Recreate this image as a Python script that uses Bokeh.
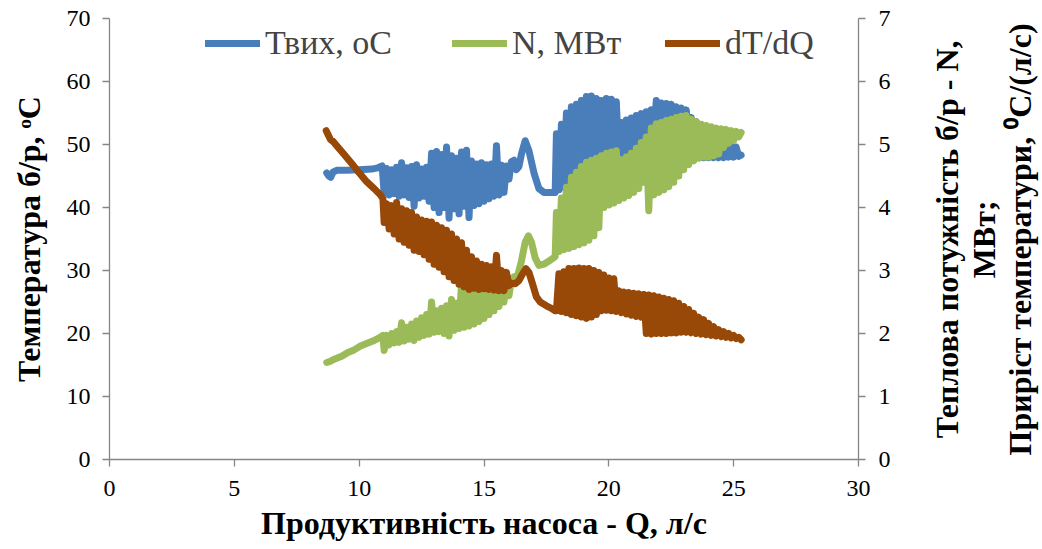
import math
from bokeh.plotting import figure
from bokeh.layouts import row
from bokeh.models import (Range1d, LinearAxis, SingleIntervalTicker, Legend, LegendItem)
from bokeh.core.properties import value
from bokeh.embed import file_html
from bokeh.resources import INLINE

# ---------------- data ----------------
# Outlet temperature, oC (left axis)
q_t = [8.70, 8.78, 8.86, 8.95, 9.10, 9.50, 10.00, 10.50, 10.75, 10.92,
       11.0, 11.1, 11.2, 11.3, 11.4, 11.5, 11.6, 11.7, 11.8, 11.9,
       12.0, 12.1, 12.2, 12.3, 12.4, 12.5, 12.6, 12.7, 12.8, 12.9,
       13.0, 13.1, 13.2, 13.3, 13.4, 13.5, 13.6, 13.7, 13.8, 13.9,
       14.0, 14.1, 14.2, 14.3, 14.4, 14.5, 14.6, 14.7, 14.8, 14.9,
       15.0, 15.1, 15.2, 15.3, 15.4, 15.5, 15.6, 15.7, 15.8, 15.9, 16.0,
       16.1, 16.2, 16.3, 16.4, 16.5, 16.65, 16.8, 17.0, 17.2, 17.4, 17.6, 17.85,
       17.9, 18.0, 18.1, 18.2, 18.3, 18.4, 18.5, 18.6, 18.7, 18.8, 18.9,
       19.0, 19.1, 19.2, 19.3, 19.4, 19.5, 19.6, 19.7, 19.8, 19.9,
       20.0, 20.1, 20.2, 20.3, 20.4, 20.5, 20.6, 20.7, 20.8, 20.9,
       21.0, 21.1, 21.2, 21.3, 21.4, 21.5, 21.6, 21.7, 21.8, 21.9,
       22.0, 22.1, 22.2, 22.3, 22.4, 22.5, 22.6, 22.7, 22.8, 22.9,
       23.0, 23.1, 23.2, 23.3, 23.4, 23.5, 23.6, 23.7, 23.8, 23.9,
       24.0, 24.1, 24.2, 24.3, 24.4, 24.5, 24.6, 24.7, 24.8, 24.9,
       25.0, 25.1, 25.2, 25.3]
t_out = [45.5, 45.0, 44.8, 45.6, 45.9, 45.9, 46.0, 46.1, 46.3, 46.6,
         42.3, 46.2, 42.0, 46.0, 42.2, 46.4, 41.8, 47.1, 42.0, 46.3,
         41.6, 46.5, 40.2, 46.8, 41.5, 46.1, 41.8, 46.4, 41.0, 48.6,
         40.0, 48.9, 39.2, 48.4, 40.0, 49.6, 38.3, 48.2, 39.8, 47.8,
         39.0, 48.8, 40.2, 49.1, 38.4, 47.4, 40.3, 46.9, 40.6, 47.1,
         41.0, 46.8, 41.4, 46.9, 41.8, 49.8, 42.0, 46.7, 42.4, 46.6, 44.5,
         47.3, 47.5, 46.0, 46.5, 48.5, 50.6, 49.0, 45.5, 43.0, 42.4, 42.4, 42.4,
         51.7, 42.8, 53.2, 43.2, 55.0, 43.8, 56.0, 44.3, 56.4, 44.8, 57.0,
         45.3, 57.6, 45.8, 57.7, 46.3, 57.3, 46.8, 57.0, 47.3, 57.3,
         47.8, 57.2, 48.3, 56.8, 47.5, 53.5, 47.0, 53.9, 47.6, 54.2,
         48.3, 54.6, 49.0, 54.9, 49.7, 55.2, 50.3, 55.5, 51.0, 57.0,
         51.6, 56.6, 52.2, 56.5, 52.7, 56.4, 53.0, 56.0, 53.0, 55.8,
         52.5, 55.5, 51.5, 54.3, 49.5, 53.6, 48.3, 53.0, 47.9, 52.4,
         47.9, 51.8, 47.9, 51.2, 47.9, 50.8, 47.9, 50.4, 48.0, 50.0,
         48.0, 49.6, 48.1, 48.3]

# Heat power N, MW (right axis)
q_n = [8.70, 8.85, 9.05, 9.30, 9.55, 9.80, 10.05, 10.30, 10.55, 10.80, 10.95,
       11.0, 11.1, 11.2, 11.3, 11.4, 11.5, 11.6, 11.7, 11.8, 11.9,
       12.0, 12.1, 12.2, 12.3, 12.4, 12.5, 12.6, 12.7, 12.8, 12.9,
       13.0, 13.1, 13.2, 13.3, 13.4, 13.5, 13.6, 13.7, 13.8, 13.9,
       14.0, 14.1, 14.2, 14.3, 14.4, 14.5, 14.6, 14.7, 14.8, 14.9,
       15.0, 15.1, 15.2, 15.3, 15.4, 15.5, 15.6, 15.7, 15.8, 15.9, 16.0,
       16.1, 16.2, 16.35, 16.5, 16.65, 16.78, 16.9, 17.05, 17.2, 17.4, 17.6, 17.85,
       17.9, 18.0, 18.1, 18.2, 18.3, 18.4, 18.5, 18.6, 18.7, 18.8, 18.9,
       19.0, 19.1, 19.2, 19.3, 19.4, 19.5, 19.6, 19.7, 19.8, 19.9,
       20.0, 20.1, 20.2, 20.3, 20.4, 20.5, 20.6, 20.7, 20.8, 20.9,
       21.0, 21.1, 21.2, 21.3, 21.4, 21.5, 21.6, 21.7, 21.8, 21.9,
       22.0, 22.1, 22.2, 22.3, 22.4, 22.5, 22.6, 22.7, 22.8, 22.9,
       23.0, 23.1, 23.2, 23.3, 23.4, 23.5, 23.6, 23.7, 23.8, 23.9,
       24.0, 24.1, 24.2, 24.3, 24.4, 24.5, 24.6, 24.7, 24.8, 24.9,
       25.0, 25.1, 25.2, 25.3]
n_mw = [1.54, 1.56, 1.60, 1.64, 1.70, 1.74, 1.80, 1.84, 1.88, 1.93, 1.97,
        1.73, 1.97, 1.82, 2.00, 1.85, 2.03, 1.86, 2.17, 1.88, 2.10,
        1.91, 2.15, 1.89, 2.20, 1.94, 2.25, 1.97, 2.30, 1.99, 2.50,
        2.02, 2.36, 2.03, 2.40, 2.00, 2.44, 1.96, 2.54, 2.05, 2.48,
        2.08, 2.80, 2.10, 2.76, 2.12, 2.74, 2.15, 2.74, 2.19, 2.75,
        2.24, 2.76, 2.30, 2.78, 2.36, 2.80, 2.43, 2.82, 2.50, 2.85, 2.60,
        2.87, 2.90, 2.92, 3.15, 3.45, 3.55, 3.45, 3.20, 3.08, 3.10, 3.15, 3.22,
        3.92, 3.30, 4.15, 3.33, 4.32, 3.35, 4.48, 3.38, 4.56, 3.41, 4.65,
        3.44, 4.72, 3.48, 4.75, 3.55, 4.78, 3.68, 4.82, 4.00, 4.86,
        4.04, 4.88, 4.07, 4.90, 4.11, 4.76, 4.15, 4.80, 4.19, 4.86,
        4.24, 4.94, 4.30, 5.03, 4.40, 5.12, 3.95, 5.26, 4.20, 5.33,
        4.24, 5.35, 4.28, 5.38, 4.33, 5.40, 4.40, 5.43, 4.50, 5.45,
        4.60, 5.46, 4.68, 5.40, 4.74, 5.36, 4.78, 5.32, 4.80, 5.30,
        4.80, 5.28, 4.82, 5.26, 4.85, 5.25, 4.95, 5.24, 5.02, 5.22,
        5.06, 5.21, 5.12, 5.19]

# Temperature increment dT/dQ, oC/(l/s) (right axis)
q_d = [8.68, 8.75, 8.85, 8.95, 9.10, 9.40, 9.70, 10.00, 10.30, 10.60, 10.85, 10.95,
       11.0, 11.1, 11.2, 11.3, 11.4, 11.5, 11.6, 11.7, 11.8, 11.9,
       12.0, 12.1, 12.2, 12.3, 12.4, 12.5, 12.6, 12.7, 12.8, 12.9,
       13.0, 13.1, 13.2, 13.3, 13.4, 13.5, 13.6, 13.7, 13.8, 13.9,
       14.0, 14.1, 14.2, 14.3, 14.4, 14.5, 14.6, 14.7, 14.8, 14.9,
       15.0, 15.1, 15.2, 15.3, 15.4, 15.5, 15.6, 15.7, 15.8, 15.9, 16.0,
       16.1, 16.25, 16.4, 16.55, 16.68, 16.8, 16.95, 17.1, 17.25, 17.5, 17.7, 17.85,
       17.9, 18.0, 18.1, 18.2, 18.3, 18.4, 18.5, 18.6, 18.7, 18.8, 18.9,
       19.0, 19.1, 19.2, 19.3, 19.4, 19.5, 19.6, 19.7, 19.8, 19.9,
       20.0, 20.1, 20.2, 20.3, 20.4, 20.5, 20.6, 20.7, 20.8, 20.9,
       21.0, 21.1, 21.2, 21.3, 21.4, 21.5, 21.6, 21.7, 21.8, 21.9,
       22.0, 22.1, 22.2, 22.3, 22.4, 22.5, 22.6, 22.7, 22.8, 22.9,
       23.0, 23.1, 23.2, 23.3, 23.4, 23.5, 23.6, 23.7, 23.8, 23.9,
       24.0, 24.1, 24.2, 24.3, 24.4, 24.5, 24.6, 24.7, 24.8, 24.9,
       25.0, 25.1, 25.2, 25.3]
dt_dq = [5.22, 5.16, 5.08, 5.05, 4.98, 4.84, 4.70, 4.55, 4.41, 4.30, 4.20, 4.14,
         3.76, 4.06, 3.66, 4.03, 3.58, 4.08, 3.50, 3.98, 3.45, 3.95,
         3.40, 3.92, 3.32, 3.85, 3.30, 3.80, 3.25, 3.78, 3.18, 3.77,
         3.10, 3.72, 3.05, 3.68, 2.98, 3.64, 2.90, 3.58, 2.84, 3.50,
         2.78, 3.44, 2.74, 3.32, 2.70, 3.22, 2.72, 3.15, 2.70, 3.10,
         2.71, 3.08, 2.70, 3.06, 2.69, 3.24, 2.68, 3.00, 2.68, 2.97, 2.76,
         2.80, 2.79, 2.84, 2.95, 3.03, 2.97, 2.78, 2.58, 2.50, 2.44, 2.40, 2.36,
         2.36, 2.95, 2.35, 2.98, 2.33, 3.03, 2.30, 3.03, 2.28, 3.04, 2.26,
         3.03, 2.24, 3.03, 2.26, 3.00, 2.30, 2.97, 2.36, 2.93, 2.37,
         2.88, 2.36, 2.87, 2.35, 2.68, 2.33, 2.66, 2.31, 2.65, 2.29,
         2.64, 2.27, 2.63, 2.26, 2.62, 2.00, 2.61, 1.99, 2.60, 2.00,
         2.58, 2.00, 2.56, 2.00, 2.54, 2.01, 2.52, 2.01, 2.48, 2.02,
         2.43, 2.02, 2.38, 2.01, 2.32, 2.00, 2.26, 1.99, 2.22, 1.98,
         2.16, 1.97, 2.11, 1.96, 2.06, 1.95, 2.03, 1.94, 2.00, 1.93,
         1.97, 1.92, 1.94, 1.90]

series_names = ["Твих, оС", "N, МВт", "dT/dQ"]
colors = ["#4A7EBB", "#9BBB59", "#984807"]

x_ticks_step = 5
left_ticks_step = 10
right_ticks_step = 1

x_title = "Продуктивність насоса - Q, л/с"
left_title = "Температура б/р, ᵒС"
right_title_lines = ["Теплова потужність б/р - N,", "МВт;", "Приріст температури, ⁰С/(л/с)"]

# ---------------- main figure ----------------
SERIF = "Liberation Serif"
AX = "#868686"
W_MAIN, W_SIDE, H = 900, 142, 549

p = figure(width=W_MAIN, height=H, output_backend="svg", toolbar_location=None,
           x_range=Range1d(0, 30), y_range=Range1d(0, 70),
           min_border_left=109, min_border_right=W_MAIN - 858, min_border_top=18, min_border_bottom=90)
p.extra_y_ranges = {"r": Range1d(0, 7)}
p.outline_line_color = None
p.background_fill_color = "white"
p.border_fill_color = "white"
p.grid.visible = False

r_axis = LinearAxis(y_range_name="r")
p.add_layout(r_axis, "right")

p.xaxis.ticker = SingleIntervalTicker(interval=x_ticks_step)
p.yaxis[0].ticker = SingleIntervalTicker(interval=left_ticks_step)
r_axis.ticker = SingleIntervalTicker(interval=right_ticks_step)

for ax in [p.xaxis[0], p.yaxis[0], r_axis]:
    ax.axis_line_color = AX
    ax.axis_line_width = 1.3
    ax.major_tick_line_color = AX
    ax.major_tick_line_width = 1.3
    ax.major_tick_out = 7
    ax.major_tick_in = 0
    ax.minor_tick_line_color = None
    ax.major_label_text_font = SERIF
    ax.major_label_text_font_size = "24px"
    ax.major_label_text_color = "black"
    ax.axis_label_text_font = SERIF
    ax.axis_label_text_font_style = "bold"
    ax.axis_label_text_font_size = "32px"
    ax.axis_label_text_color = "black"

p.xaxis[0].major_label_standoff = 14
p.yaxis[0].major_label_standoff = 12
r_axis.major_label_standoff = 13

p.xaxis[0].axis_label = x_title
p.xaxis[0].axis_label_standoff = 6
p.yaxis[0].axis_label = left_title
p.yaxis[0].axis_label_standoff = 17

# ---------------- series ----------------
lw = 7
r_t = p.line(q_t, t_out, line_color=colors[0], line_width=lw, line_join="round", line_cap="round")
r_n = p.line(q_n, n_mw, line_color=colors[1], line_width=lw, line_join="round", line_cap="round",
             y_range_name="r")
r_d = p.line(q_d, dt_dq, line_color=colors[2], line_width=lw, line_join="round", line_cap="round",
             y_range_name="r")

# ---------------- legend (three single-item legends) ----------------
leg_x = [96, 343, 556]
for name, rend, lx in zip(series_names, [r_t, r_n, r_d], leg_x):
    lg = Legend(items=[LegendItem(label=name, renderers=[rend])], location=(lx, 397),
                orientation="horizontal", padding=0, margin=0, spacing=0,
                glyph_width=55, glyph_height=34, label_height=34, label_standoff=5,
                label_text_font=SERIF, label_text_font_size="34px",
                background_fill_alpha=0, border_line_color=None)
    p.add_layout(lg, "center")

# ---------------- right-hand title panel (text reads bottom-to-top) ----------------
side = figure(width=W_SIDE, height=H, output_backend="svg", toolbar_location=None,
              x_range=Range1d(0, W_SIDE), y_range=Range1d(0, H),
              min_border=0, outline_line_color=None)
side.axis.visible = False
side.grid.visible = False
side.background_fill_color = "white"
side.border_fill_color = "white"
title_x = [946.5 - W_MAIN, 983 - W_MAIN, 1019.5 - W_MAIN]
title_y = [H - 238 - 37] * 3
side.text(x=title_x, y=title_y, text=right_title_lines, angle=math.pi / 2,
          text_align="center", text_baseline="middle",
          text_font=value(SERIF), text_font_style="bold", text_font_size="32px",
          text_color="black")

layout = row(p, side, spacing=0)
open("out.html", "w").write(file_html(layout, INLINE))
